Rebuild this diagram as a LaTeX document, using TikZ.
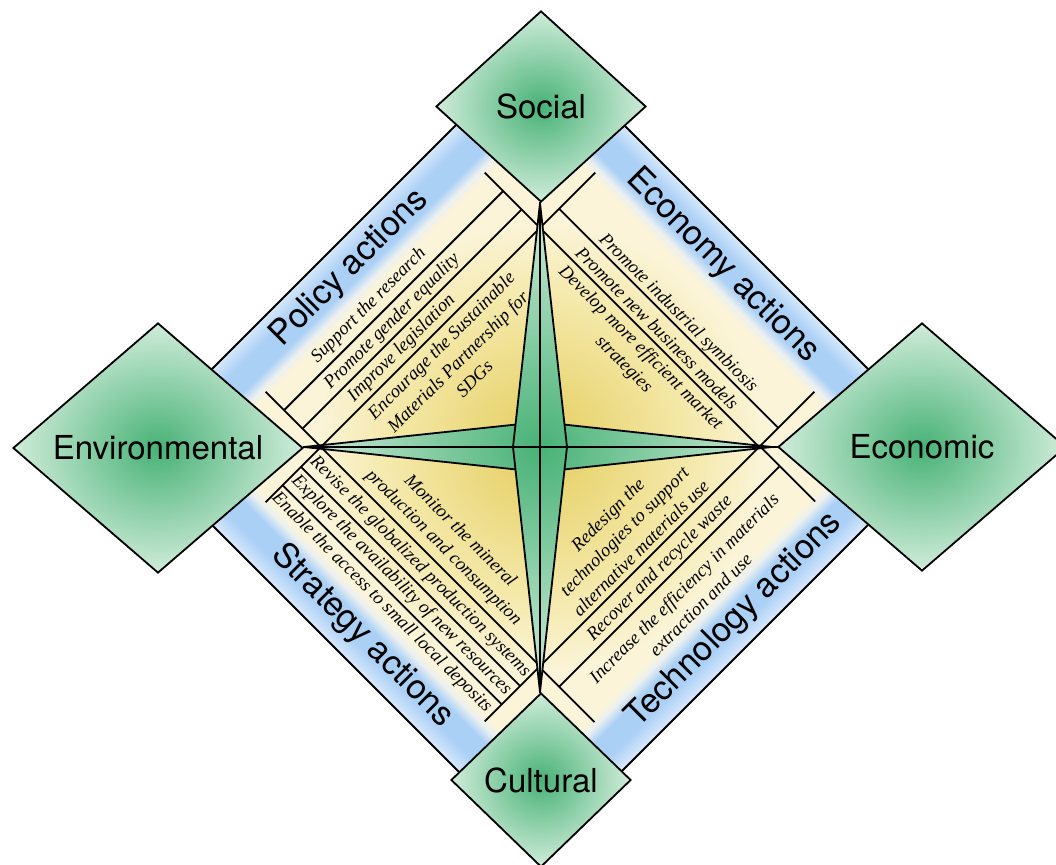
\documentclass[tikz,border=0pt]{standalone}
\usepackage{fontspec}
\setsansfont{TeX Gyre Heros}
\newfontfamily\itemserif{Liberation Serif}
\usetikzlibrary{shapes.geometric}

\definecolor{bandblue}{RGB}{170,208,246}
\definecolor{bandpale}{RGB}{212,230,250}
\definecolor{bandmist}{RGB}{238,242,240}
\definecolor{creamc}{RGB}{251,244,216}
\definecolor{glowmid}{RGB}{244,232,168}
\definecolor{glowc}{RGB}{228,205,92}
\definecolor{leafc}{RGB}{72,178,118}
\definecolor{leafpale}{RGB}{208,236,218}

\pgfdeclareradialshading{innerglow}{\pgfpoint{0bp}{0bp}}{color(0bp)=(glowc);
  color(11bp)=(glowmid); color(17bp)=(creamc); color(50bp)=(creamc)}

\tikzset{
  facet/.style     = {diamond, draw, line width=1.8pt, inner sep=0pt,
                      inner color=leafc, outer color=leafpale,
                      font=\sffamily\fontsize{33}{40}\selectfont},
  bandlabel/.style = {inner sep=0pt,
                      font=\sffamily\fontsize{34}{40}\selectfont},
  item/.style      = {inner sep=0pt, align=center,
                      font=\itemserif\itshape\fontsize{18.5}{23.5}\selectfont},
  sepline/.style   = {line width=1.8pt},
}

% blue band of one quadrant, #1 = side (1 outward up, -1 outward down)
\newcommand{\bandfill}[1]{%
  \foreach \d in {228,...,235} {%
    \pgfmathsetmacro{\p}{(\d-228)*12.5}
    \fill[bandmist!\p!creamc] (-300,{#1*\d}) rectangle (300,{#1*(\d+1.3)});
  }
  \foreach \d in {236,...,247} {%
    \pgfmathsetmacro{\p}{(\d-236)*100/12}
    \fill[bandblue!\p!bandmist] (-300,{#1*\d}) rectangle (300,{#1*(\d+1.3)});
  }
  \fill[bandblue] (-300,{#1*248}) rectangle (300,{#1*268});
  \foreach \d in {268,...,285} {%
    \pgfmathsetmacro{\p}{(\d-268)*100/17}
    \fill[bandpale!\p!bandblue] (-300,{#1*\d}) rectangle (300,{#1*(\d+1.3)});
  }%
}

\begin{document}
\begin{tikzpicture}[x=1pt, y=1pt]
\useasboundingbox (-540,-417) rectangle (516,447);

% ── Blue frame and cream core ─────────────────────────────
\fill[bandpale] (-406,0) -- (0,406) -- (406,0) -- (0,-406) -- cycle;
\begin{scope}
  \clip (-329.5,0) -- (0,329.5) -- (329.5,0) -- (0,-329.5) -- cycle;
  \shade[shading=innerglow] (0,0) circle (330);
\end{scope}

% ── Policy actions (upper left) ───────────────────────────
\begin{scope}
  \clip (0,0) rectangle (-420,420);
  \begin{scope}[rotate=45, transform shape]
    \bandfill{1}
    \draw[sepline] (-155,233) -- (-155,140) (155,233) -- (155,140);
    \draw[sepline] (-155,207) -- (155,207) (-155,181) -- (155,181)
                   (-220,155) -- (220,155);
    \node[bandlabel] (policy) at (-8,261) {Policy actions};
    \node[item] (pol1) at (-21,221) {Support the research};
    \node[item] (pol2) at (-16,193) {Promote gender equality};
    \node[item] (pol3) at (-28,167.5) {Improve legislation};
    \node[item] (pol4) at (2,118.5)
          {Encourage the Sustainable\\Materials Partnership for\\SDGs};
  \end{scope}
\end{scope}

% ── Economy actions (upper right) ─────────────────────────
\begin{scope}
  \clip (0,0) rectangle (420,420);
  \begin{scope}[rotate=-45, transform shape]
    \bandfill{1}
    \draw[sepline] (-155,233) -- (-155,140) (155,233) -- (155,140);
    \draw[sepline] (-155,182) -- (155,182) (-220,155) -- (220,155);
    \node[bandlabel] (economy) at (1,257) {Economy actions};
    \node[item] (eco1) at (3,192) {Promote industrial symbiosis};
    \node[item] (eco2) at (-1,167) {Promote new business models};
    \node[item] (eco3) at (1,129) {Develop more efficient market\\strategies};
  \end{scope}
\end{scope}

% ── Technology actions (lower right) ──────────────────────
\begin{scope}
  \clip (0,0) rectangle (420,-420);
  \begin{scope}[rotate=45, transform shape]
    \bandfill{-1}
    \draw[sepline] (-156,-233) -- (-156,-140) (156,-233) -- (156,-140);
    \draw[sepline] (-156,-183) -- (156,-183) (-220,-155) -- (220,-155);
    \node[bandlabel] (technology) at (15,-260) {Technology actions};
    \node[item] (tec1) at (0,-119)
          {Redesign the\\technologies to support\\alternative materials use};
    \node[item] (tec2) at (-1,-171) {Recover and recycle waste};
    \node[item] (tec3) at (2,-213)
          {Increase the efficiency in materials\\extraction and use};
  \end{scope}
\end{scope}

% ── Strategy actions (lower left) ─────────────────────────
\begin{scope}
  \clip (0,0) rectangle (-420,-420);
  \begin{scope}[rotate=-45, transform shape]
    \bandfill{-1}
    \draw[sepline] (-155,-233) -- (-155,-140) (155,-233) -- (155,-140);
    \draw[sepline] (-155,-209) -- (155,-209) (-155,-183) -- (155,-183)
                   (-220,-155) -- (220,-155);
    \node[bandlabel] (strategy) at (8,-259) {Strategy actions};
    \node[item] (str1) at (3,-128) {Monitor the mineral\\production and consumption};
    \node[item] (str2) at (0,-169.5) {Revise the globalized production systems};
    \node[item] (str3) at (0,-196) {Explore the availability of new resources};
    \node[item] (str4) at (-2,-222) {Enable the access to small local deposits};
  \end{scope}
\end{scope}

\draw[sepline] (-406,0) -- (0,406) -- (406,0) -- (0,-406) -- cycle;

% ── Four-pointed star ─────────────────────────────────────
\begin{scope}
  \clip (0,244) -- (-24.6,22.4) -- (-236,0) -- (-24.6,-22.4) -- (0,-245)
        -- (24.5,-22.4) -- (232,0) -- (24.5,22.4) -- cycle;
  \shade[inner color=leafc, outer color=leafpale] (0,0) circle (240);
\end{scope}
\draw[sepline, line join=round] (-24.6,22.4) -- (-236,0) -- (-24.6,-22.4)
                                (24.5,22.4) -- (232,0) -- (24.5,-22.4);
\draw[sepline, line join=round] (0,244) -- (-27,0) -- (0,-245) -- (27,0) -- cycle;
\draw[sepline] (-237,0) -- (238,0) (0,245) -- (0,-246);

% ── Dimensions ────────────────────────────────────────────
\node[facet, minimum width=210pt, minimum height=191pt] (social) at (1,340.5) {Social};
\node[facet, minimum width=290pt, minimum height=250pt] (environ) at (-382,-1) {Environmental};
\node[facet, minimum width=288pt, minimum height=248pt] (economic) at (382,0) {Economic};
\node[facet, minimum width=180pt, minimum height=174pt] (cultural) at (1,-333) {Cultural};

\end{tikzpicture}
\end{document}
